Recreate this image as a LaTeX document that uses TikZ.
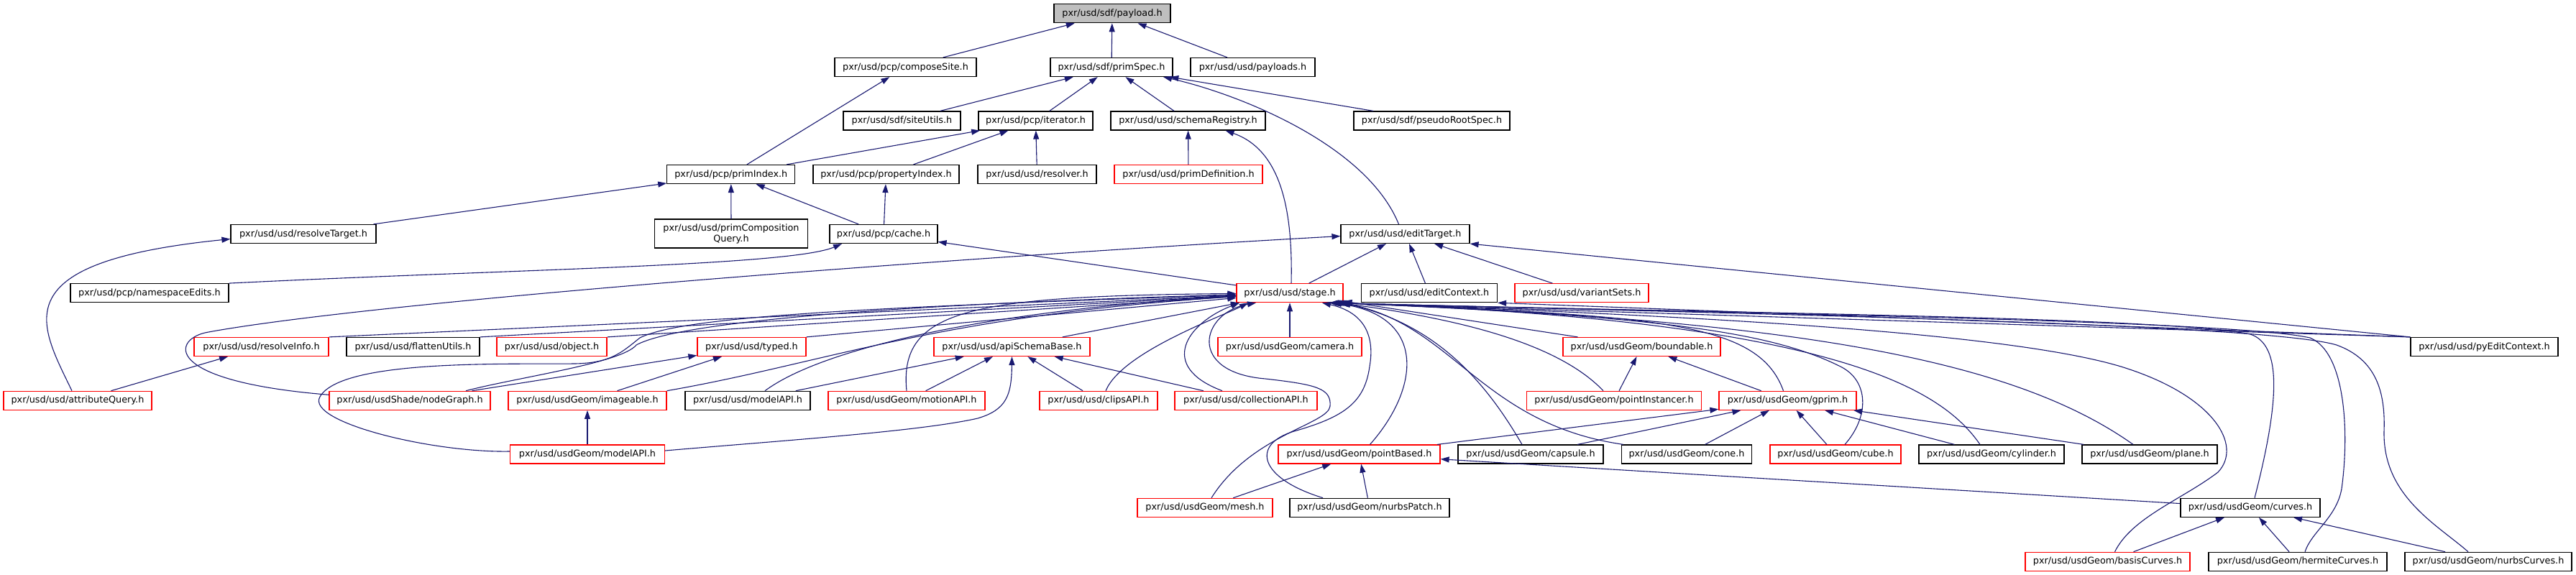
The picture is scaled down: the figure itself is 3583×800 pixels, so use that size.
\documentclass[tikz,border=0pt]{standalone}
\usepackage{fontspec}
\setmainfont{DejaVu Sans}
\usetikzlibrary{arrows.meta}
\definecolor{edgeblue}{HTML}{191970}
\definecolor{boxred}{HTML}{FF0000}
\tikzset{
  hdr/.style={draw=black, fill=white, line width=1.2pt, inner sep=0pt, minimum height=26pt, font=\fontsize{12.8pt}{15pt}\selectfont},
  trunc/.style={hdr, draw=boxred},
  root/.style={hdr, fill=black!25},
  edge/.style={draw=edgeblue, line width=1.1pt},
}
\begin{document}
\begin{tikzpicture}[x=1pt, y=-1pt, >={Triangle[length=12pt,width=8pt]}]
    \useasboundingbox (0,0) rectangle (3583,800);
    \node[root,  minimum width=162] (payload)        at (1547,18.7)   {pxr/usd/sdf/payload.h};
    \node[hdr,   minimum width=197] (composeSite)    at (1259.5,93.5) {pxr/usd/pcp/composeSite.h};
    \node[hdr,   minimum width=170] (primSpec)       at (1546,93.5)   {pxr/usd/sdf/primSpec.h};
    \node[hdr,   minimum width=173] (payloads)       at (1742.5,93.5) {pxr/usd/usd/payloads.h};
    \node[hdr,   minimum width=163] (siteUtils)      at (1254.5,168)  {pxr/usd/sdf/siteUtils.h};
    \node[hdr,   minimum width=159] (iterator)       at (1440.5,168)  {pxr/usd/pcp/iterator.h};
    \node[hdr,   minimum width=215] (schemaRegistry) at (1652.5,168)  {pxr/usd/usd/schemaRegistry.h};
    \node[hdr,   minimum width=217] (pseudoRootSpec) at (1991.5,168)  {pxr/usd/sdf/pseudoRootSpec.h};
    \node[hdr,   minimum width=178] (primIndex)      at (1016.8,242.5) {pxr/usd/pcp/primIndex.h};
    \node[hdr,   minimum width=203] (propertyIndex)  at (1232.5,242.5) {pxr/usd/pcp/propertyIndex.h};
    \node[hdr,   minimum width=165] (resolver)       at (1442.5,242.5) {pxr/usd/usd/resolver.h};
    \node[trunc, minimum width=206] (primDefinition) at (1653,242.5)  {pxr/usd/usd/primDefinition.h};
    \node[hdr,   minimum width=202] (resolveTarget)  at (422,325.5)   {pxr/usd/usd/resolveTarget.h};
    \node[hdr,   minimum width=213, minimum height=40pt, align=center] (primCompQuery) at (1017,325) {pxr/usd/usd/primComposition\\Query.h};
    \node[hdr,   minimum width=150] (cache)          at (1229,325.5)  {pxr/usd/pcp/cache.h};
    \node[hdr,   minimum width=179] (editTarget)     at (1954.5,325.5) {pxr/usd/usd/editTarget.h};
    \node[hdr,   minimum width=220] (namespaceEdits) at (208,407.7)   {pxr/usd/pcp/namespaceEdits.h};
    \node[trunc, minimum width=148] (stage)          at (1794,407.7)  {pxr/usd/usd/stage.h};
    \node[hdr,   minimum width=189] (editContext)    at (1988,407.7)  {pxr/usd/usd/editContext.h};
    \node[trunc, minimum width=186] (variantSets)    at (2200,407.7)  {pxr/usd/usd/variantSets.h};
    \node[trunc, minimum width=187] (resolveInfo)    at (363.5,482.5) {pxr/usd/usd/resolveInfo.h};
    \node[hdr,   minimum width=185] (flattenUtils)   at (574.5,482.5) {pxr/usd/usd/flattenUtils.h};
    \node[trunc, minimum width=153] (object)         at (767.5,482.5) {pxr/usd/usd/object.h};
    \node[trunc, minimum width=151] (typed)          at (1045.5,482.5) {pxr/usd/usd/typed.h};
    \node[trunc, minimum width=217] (apiSchemaBase)  at (1407.5,482.5) {pxr/usd/usd/apiSchemaBase.h};
    \node[trunc, minimum width=200] (camera)         at (1794,482.5)  {pxr/usd/usdGeom/camera.h};
    \node[trunc, minimum width=219] (boundable)      at (2283.5,482.5) {pxr/usd/usdGeom/boundable.h};
    \node[hdr,   minimum width=205] (pyEditContext)  at (3455.5,482.5) {pxr/usd/usd/pyEditContext.h};
    \node[trunc, minimum width=206] (attributeQuery) at (108,557.3)   {pxr/usd/usd/attributeQuery.h};
    \node[trunc, minimum width=224] (nodeGraph)      at (570,557.3)   {pxr/usd/usdShade/nodeGraph.h};
    \node[trunc, minimum width=220] (imageable)      at (817,557.3)   {pxr/usd/usdGeom/imageable.h};
    \node[hdr,   minimum width=174] (usdModelAPI)    at (1040,557.3)  {pxr/usd/usd/modelAPI.h};
    \node[trunc, minimum width=218] (motionAPI)      at (1261,557.3)  {pxr/usd/usdGeom/motionAPI.h};
    \node[trunc, minimum width=164] (clipsAPI)       at (1528,557.3)  {pxr/usd/usd/clipsAPI.h};
    \node[trunc, minimum width=198] (collectionAPI)  at (1733,557.3)  {pxr/usd/usd/collectionAPI.h};
    \node[trunc, minimum width=243] (pointInstancer) at (2245,557.3)  {pxr/usd/usdGeom/pointInstancer.h};
    \node[trunc, minimum width=191] (gprim)          at (2486.5,557.3) {pxr/usd/usdGeom/gprim.h};
    \node[trunc, minimum width=215] (geomModelAPI)   at (817,632)     {pxr/usd/usdGeom/modelAPI.h};
    \node[trunc, minimum width=225] (pointBased)     at (1890.5,632)  {pxr/usd/usdGeom/pointBased.h};
    \node[hdr,   minimum width=202] (capsule)        at (2129,632)    {pxr/usd/usdGeom/capsule.h};
    \node[hdr,   minimum width=181] (cone)           at (2346,632)    {pxr/usd/usdGeom/cone.h};
    \node[trunc, minimum width=182] (cube)           at (2553,632)    {pxr/usd/usdGeom/cube.h};
    \node[hdr,   minimum width=202] (cylinder)       at (2770,632)    {pxr/usd/usdGeom/cylinder.h};
    \node[hdr,   minimum width=188] (plane)          at (2990,632)    {pxr/usd/usdGeom/plane.h};
    \node[trunc, minimum width=188] (mesh)           at (1676,706.3)  {pxr/usd/usdGeom/mesh.h};
    \node[hdr,   minimum width=222] (nurbsPatch)     at (1905,706.3)  {pxr/usd/usdGeom/nurbsPatch.h};
    \node[hdr,   minimum width=194] (curves)         at (3130,706.3)  {pxr/usd/usdGeom/curves.h};
    \node[trunc, minimum width=229] (basisCurves)    at (2931.5,781.3) {pxr/usd/usdGeom/basisCurves.h};
    \node[hdr,   minimum width=248] (hermiteCurves)  at (3196,781.3)  {pxr/usd/usdGeom/hermiteCurves.h};
    \node[hdr,   minimum width=232] (nurbsCurves)    at (3461,781.3)  {pxr/usd/usdGeom/nurbsCurves.h};

    \draw[<-,edge] (payload) -- (composeSite);
    \draw[<-,edge] (payload) -- (primSpec);
    \draw[<-,edge] (payload) -- (payloads);
    \draw[<-,edge] (composeSite) -- (primIndex);
    \draw[<-,edge] (primSpec) -- (siteUtils);
    \draw[<-,edge] (primSpec) -- (iterator);
    \draw[<-,edge] (primSpec) -- (schemaRegistry);
    \draw[<-,edge] (primSpec) -- (pseudoRootSpec);
    \draw[<-,edge] ([xshift=72]primSpec.south) .. controls (1720,130) and (1900,200) .. ([xshift=-9]editTarget.north);
    \draw[<-,edge] (iterator) -- (primIndex);
    \draw[<-,edge] (iterator) -- (propertyIndex);
    \draw[<-,edge] (iterator) -- (resolver);
    \draw[<-,edge] (schemaRegistry) -- (primDefinition);
    \draw[<-,edge] ([xshift=52]schemaRegistry.south) .. controls (1785,210) and (1798,300) .. ([xshift=2]stage.north);
    \draw[<-,edge] (primIndex) -- (resolveTarget);
    \draw[<-,edge] (primIndex) -- (primCompQuery);
    \draw[<-,edge] (primIndex) -- (cache);
    \draw[<-,edge] (propertyIndex) -- (cache);
    \draw[<-,edge] ([yshift=-7]resolveTarget.west) .. controls (0,365) and (55,450) .. ([xshift=-8]attributeQuery.north);
    \draw[<-,edge] (resolveInfo) -- (attributeQuery);
    \draw[<-,edge] (cache) -- (stage);
    \draw[<-,edge] ([xshift=-58]cache.south) .. controls (1100,370) and (700,375) .. (namespaceEdits.north east);
    \draw[<-,edge] (editTarget) -- (stage);
    \draw[<-,edge] (editTarget) -- (editContext);
    \draw[<-,edge] (editTarget) -- (variantSets);
    \draw[<-,edge] (editTarget.south east) -- (pyEditContext.north west);
    \draw[<-,edge] ([yshift=-3]editTarget.west) .. controls (1300,360) and (520,420) .. (290,462) .. controls (240,470) and (220,530) .. ([yshift=8]nodeGraph.west);
    \draw[<-,edge] (editContext.south east) -- (pyEditContext.north west);

    \draw[<-,edge] (stage) -- (resolveInfo.north east);
    \draw[<-,edge] (stage) -- (flattenUtils.north east);
    \draw[<-,edge] (stage) -- (object.north east);
    \draw[<-,edge] (stage) -- (typed.north east);
    \draw[<-,edge] (stage) .. controls (1200,425) and (940,450) .. (885,480) .. controls (865,505) and (720,525) .. ([xshift=78]nodeGraph.north);
    \draw[<-,edge] (stage) .. controls (1300,440) and (1150,505) .. (imageable.north east);
    \draw[<-,edge] (stage) .. controls (1400,430) and (1150,480) .. ([xshift=24]usdModelAPI.north);
    \draw[<-,edge] (stage) .. controls (1200,428) and (950,440) .. (890,470) .. controls (865,490) and (850,505) .. (800,506) .. controls (700,507) and (475,500) .. (445,552) .. controls (425,587) and (600,630) .. ([yshift=4]geomModelAPI.west);
    \draw[<-,edge] (stage) -- (apiSchemaBase);
    \draw[<-,edge] (stage) .. controls (1350,412) and (1250,430) .. (motionAPI.north);
    \draw[<-,edge] ([xshift=-58]stage.south) .. controls (1700,440) and (1560,490) .. ([xshift=10]clipsAPI.north);
    \draw[<-,edge] ([xshift=-70]stage.south) .. controls (1650,450) and (1610,510) .. ([xshift=-33]collectionAPI.north);
    \draw[<-,edge] (stage) -- (camera);
    \draw[<-,edge] ([xshift=-47]stage.south) .. controls (1670,435) and (1650,518) .. (1760,527) .. controls (1830,535) and (1852,540) .. (1850,565) .. controls (1848,590) and (1740,605) .. ([xshift=9]mesh.north);
    \draw[<-,edge] ([xshift=45]stage.south) .. controls (1900,435) and (1912,470) .. (1905,510) .. controls (1898,560) and (1870,580) .. (1800,600) .. controls (1740,618) and (1750,665) .. ([xshift=-65]nurbsPatch.north);
    \draw[<-,edge] ([xshift=60]stage.south) .. controls (1985,440) and (1975,540) .. ([xshift=15]pointBased.north);
    \draw[<-,edge] ([xshift=-2]stage.south east) .. controls (1990,450) and (2060,520) .. ([xshift=-12]capsule.north);
    \draw[<-,edge] ([xshift=-4]stage.south east) .. controls (2020,450) and (2060,590) .. ([xshift=-88]cone.north);
    \draw[<-,edge] (stage) -- (boundable);
    \draw[<-,edge] ([xshift=-6]stage.south east) .. controls (2000,440) and (2160,470) .. ([xshift=-15]pointInstancer.north);
    \draw[<-,edge] ([xshift=-8]stage.south east) .. controls (2300,440) and (2445,445) .. ([xshift=-6]gprim.north);
    \draw[<-,edge] ([xshift=-10]stage.south east) .. controls (2300,440) and (2460,460) .. (2560,510) .. controls (2600,530) and (2600,580) .. ([xshift=13]cube.north);
    \draw[<-,edge] ([xshift=-12]stage.south east) .. controls (2550,445) and (2700,540) .. ([xshift=-16]cylinder.north);
    \draw[<-,edge] ([xshift=-14]stage.south east) .. controls (2500,445) and (2800,500) .. ([xshift=-23]plane.north);
    \draw[<-,edge] ([xshift=-16]stage.south east) .. controls (2400,440) and (2800,465) .. (2950,510) .. controls (3080,550) and (3120,620) .. (3085,657) .. controls (3035,695) and (2965,720) .. ([xshift=10]basisCurves.north);
    \draw[<-,edge] ([xshift=-18]stage.south east) .. controls (2400,436) and (3000,440) .. (3130,465) .. controls (3175,480) and (3170,560) .. ([xshift=6]curves.north);
    \draw[<-,edge] ([xshift=-18]stage.south east) .. controls (2400,436) and (3100,445) .. (3213,470) .. controls (3262,490) and (3268,600) .. (3257,680) .. controls (3250,720) and (3215,740) .. ([xshift=10]hermiteCurves.north);
    \draw[<-,edge] ([xshift=-18]stage.south east) .. controls (2400,436) and (3150,450) .. (3250,480) .. controls (3305,500) and (3318,545) .. (3316,600) .. controls (3314,690) and (3390,730) .. ([xshift=-28]nurbsCurves.north);
    \draw[<-,edge] ([xshift=-20]stage.south east) -- (pyEditContext.north west);

    \draw[<-,edge] (typed) -- (nodeGraph);
    \draw[<-,edge] (typed) -- (imageable);
    \draw[<-,edge] (imageable) -- (geomModelAPI);
    \draw[<-,edge] (apiSchemaBase) -- (usdModelAPI);
    \draw[<-,edge] (apiSchemaBase) -- (motionAPI);
    \draw[<-,edge] (apiSchemaBase) -- (clipsAPI);
    \draw[<-,edge] (apiSchemaBase) -- (collectionAPI);
    \draw[<-,edge] (apiSchemaBase.south) .. controls (1407,550) and (1400,570) .. (1360,582) .. controls (1280,600) and (1100,612) .. ([yshift=5]geomModelAPI.east);
    \draw[<-,edge] (boundable) -- (pointInstancer);
    \draw[<-,edge] (boundable) -- (gprim);
    \draw[<-,edge] (gprim) -- (pointBased);
    \draw[<-,edge] (gprim) -- (capsule);
    \draw[<-,edge] (gprim) -- (cone);
    \draw[<-,edge] (gprim) -- (cube);
    \draw[<-,edge] (gprim) -- (cylinder);
    \draw[<-,edge] (gprim) -- (plane);
    \draw[<-,edge] (pointBased) -- (mesh);
    \draw[<-,edge] (pointBased) -- (nurbsPatch);
    \draw[<-,edge] (pointBased) -- (curves);
    \draw[<-,edge] (curves) -- (basisCurves);
    \draw[<-,edge] (curves) -- (hermiteCurves);
    \draw[<-,edge] (curves) -- (nurbsCurves);
\end{tikzpicture}
\end{document}
